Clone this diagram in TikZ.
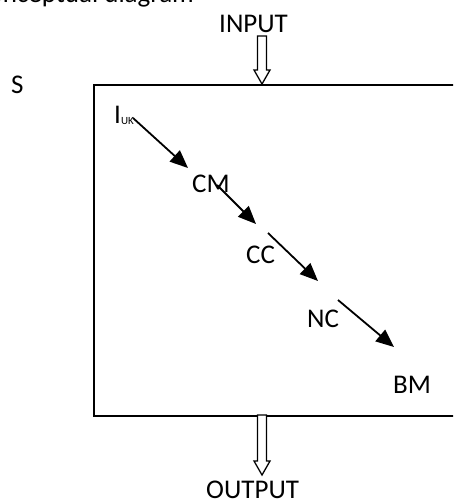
\documentclass[tikz,border=0pt]{standalone}
\usepackage{fontspec}
\setmainfont{Carlito}
\usetikzlibrary{arrows.meta,calc}
\begin{document}
\begin{tikzpicture}[x=1pt,y=-1pt,
  lbl/.style={anchor=base west,inner sep=0pt,font=\fontsize{27}{30}\selectfont},
  flow/.style={line width=1.8pt,-{Triangle[length=18pt,width=15pt]}},
  hollow/.style={draw,line width=1.3pt,fill=white,
    to path={let \p1=(\tikztostart), \p2=(\tikztotarget) in
      (\x1-4.5pt,\y1) -- (\x1+4.5pt,\y1) -- (\x1+4.5pt,\y2+14pt)
      -- (\x1+8pt,\y2+14pt) -- (\x2,\y2) -- (\x1-8pt,\y2+14pt)
      -- (\x1-4.5pt,\y2+14pt) -- cycle}}]
\useasboundingbox (0,0) rectangle (453,501);
\clip (0,0) rectangle (453,501);

% heading line, running off the top edge
\node[lbl] (caption) at (-26,2) {Conceptual diagram};

% system boundary, open past the right edge
\node[draw,line width=1.5pt,anchor=north west,inner sep=0pt,
      minimum width=420pt,minimum height=331pt] (box) at (93,84) {};

% labels
\node[lbl] (S) at (11,93) {S};
\node[lbl] (input) at (219,32) {INPUT};
\node[lbl] (output) at (206,498) {OUTPUT};
\node[lbl] (Iuk) at (114,123) {I\raisebox{-1pt}{\fontsize{11}{12}\selectfont UK}};
\node[lbl] (CM) at (192,192) {CM};
\node[lbl] (CC) at (246,263) {CC};
\node[lbl] (NC) at (307,327) {NC};
\node[lbl] (BM) at (393,393) {BM};

% ends of the flow arrows
\coordinate (inTail) at (262,36);
\coordinate (inTip) at (262,84);
\coordinate (outTail) at (262,415);
\coordinate (outTip) at (262,475);
\coordinate (f1s) at (133,118);
\coordinate (f1e) at (188,168);
\coordinate (f2s) at (217,185);
\coordinate (f2e) at (256,224);
\coordinate (f3s) at (268,233);
\coordinate (f3e) at (318,281);
\coordinate (f4s) at (338,300);
\coordinate (f4e) at (394,347);

% input / output
\draw[hollow] (inTail) to (inTip);
\draw[hollow] (outTail) to (outTip);

% internal chain
\draw[flow] (f1s) -- (f1e);
\draw[flow] (f2s) -- (f2e);
\draw[flow] (f3s) -- (f3e);
\draw[flow] (f4s) -- (f4e);
\end{tikzpicture}
\end{document}
